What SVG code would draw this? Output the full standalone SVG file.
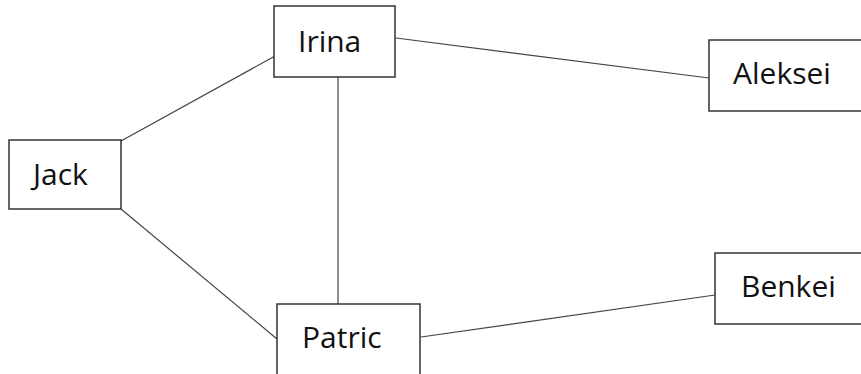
<svg xmlns="http://www.w3.org/2000/svg" width="861" height="374" viewBox="0 0 861 374">
<style>
.box{fill:#fff;stroke:#333;stroke-width:1.5}
.lbl{font-family:"Open Sans","Liberation Sans",sans-serif;font-size:30px;fill:#111}
.edge{stroke:#444;stroke-width:1.2;fill:none}
</style>
<rect width="861" height="374" fill="#fff"/>
<g id="connectors">
<line class="edge" x1="121" y1="141" x2="275" y2="56"/>
<line class="edge" x1="121" y1="209" x2="277" y2="339"/>
<line class="edge" x1="338" y1="77" x2="338" y2="304"/>
<line class="edge" x1="396" y1="38" x2="709" y2="78"/>
<line class="edge" x1="421" y1="337" x2="715" y2="295"/>
</g>
<g id="node-irina"><rect class="box" x="274" y="6" width="121" height="71"/><text class="lbl" x="298" y="52">Irina</text></g>
<g id="node-jack"><rect class="box" x="9" y="140" width="112" height="69"/><text class="lbl" x="33" y="185">Jack</text></g>
<g id="node-patric"><rect class="box" x="277" y="304" width="143" height="80"/><text class="lbl" x="302" y="348">Patric</text></g>
<g id="node-aleksei"><rect class="box" x="709" y="40" width="160" height="71"/><text class="lbl" x="733" y="84">Aleksei</text></g>
<g id="node-benkei"><rect class="box" x="715" y="253" width="160" height="71"/><text class="lbl" x="741" y="297">Benkei</text></g>
</svg>
